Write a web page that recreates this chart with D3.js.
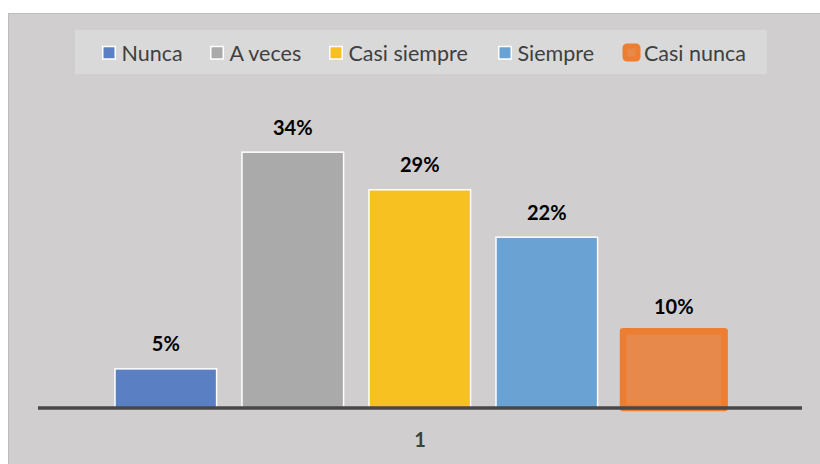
<!DOCTYPE html>
<html>
<head>
<meta charset="utf-8">
<script src="https://cdn.jsdelivr.net/npm/d3@7"></script>
<style>
  html, body { margin: 0; padding: 0; background: #ffffff; }
  svg { display: block; }
</style>
</head>
<body>
<svg id="chart" width="820" height="464"></svg>
<script>
// ---- data ----
const categories = ["Nunca", "A veces", "Casi siempre", "Siempre", "Casi nunca"];
const values = [5.2, 34, 29, 22.7, 10.2];
const valueLabels = ["5%", "34%", "29%", "22%", "10%"];
const xAxisLabels = ["1"];
const colors = ["#5a80c3", "#aaaaaa", "#f6c121", "#6ba2d4", "#e6894a"];

const svg = d3.select("#chart");
const W = 820, H = 464;

// chart area background
svg.append("rect")
  .attr("x", 8.5).attr("y", 13.5)
  .attr("width", W).attr("height", H)
  .attr("fill", "#d0cecf")
  .attr("stroke", "#bdbdbd").attr("stroke-width", 1);

// scales
const x = d3.scaleBand()
  .domain(categories)
  .range([102.3, 737.3])
  .paddingInner(0.2)
  .paddingOuter(0.1);

const y = d3.scaleLinear()
  .domain([0, 40])
  .range([408, 107]);

// bars
const bars = svg.append("g");
categories.forEach((c, i) => {
  const isLast = c === "Casi nunca";
  bars.append("rect")
    .attr("x", x(c))
    .attr("y", y(values[i]))
    .attr("width", x.bandwidth())
    .attr("height", y(0) - y(values[i]))
    .attr("fill", colors[i])
    .attr("stroke", isLast ? "#ed7d31" : "#ffffff")
    .attr("stroke-width", isLast ? 6.5 : 1.5)
    .attr("stroke-linejoin", isLast ? "round" : "miter");
});

// axis line
const xAxis = d3.axisBottom(d3.scaleBand().domain(xAxisLabels).range([38, 802]))
  .tickSize(0).tickPadding(0);
const axisG = svg.append("g")
  .attr("transform", `translate(0,${y(0)})`)
  .call(xAxis);
axisG.select(".domain")
  .attr("stroke", "#474747").attr("stroke-width", 3.5)
  .attr("d", "M38,0H802");
axisG.selectAll(".tick text")
  .attr("dy", null)
  .attr("y", 39)
  .attr("font-family", "Lato, 'Noto Sans', sans-serif")
  .attr("font-weight", "bold")
  .attr("font-size", 20)
  .attr("fill", "#404040")
  .attr("text-anchor", "middle");
axisG.selectAll(".tick line").remove();

// value labels
svg.append("g").selectAll("text")
  .data(categories)
  .join("text")
  .attr("x", d => x(d) + x.bandwidth() / 2)
  .attr("y", (d, i) => y(values[i]) - 17.5)
  .attr("text-anchor", "middle")
  .attr("font-family", "Lato, 'Noto Sans', sans-serif")
  .attr("font-weight", "bold")
  .attr("font-size", 20)
  .attr("fill", "#000000")
  .text((d, i) => valueLabels[i]);

// legend
svg.append("rect")
  .attr("x", 75).attr("y", 30)
  .attr("width", 692).attr("height", 44)
  .attr("fill", "#d9d9d9");

const legendX = [102, 210, 329, 498, 622];
const legend = svg.append("g");
categories.forEach((c, i) => {
  const isLast = c === "Casi nunca";
  if (isLast) {
    legend.append("rect")
      .attr("x", legendX[i] + 3).attr("y", 46)
      .attr("width", 13).attr("height", 13)
      .attr("rx", 2)
      .attr("fill", colors[i])
      .attr("stroke", "#ed7d31").attr("stroke-width", 5)
      .attr("stroke-linejoin", "round");
  } else {
    legend.append("rect")
      .attr("x", legendX[i] + 0.75).attr("y", 46.5)
      .attr("width", 12.5).attr("height", 12.5)
      .attr("fill", colors[i])
      .attr("stroke", "#ffffff").attr("stroke-width", 1.5);
  }
  legend.append("text")
    .attr("x", legendX[i] + (isLast ? 22 : 19.5))
    .attr("y", 60.5)
    .attr("font-family", "Lato, 'Noto Sans', sans-serif")
    .attr("font-size", 21.5)
    .attr("fill", "#404040")
    .text(c);
});
</script>
</body>
</html>
